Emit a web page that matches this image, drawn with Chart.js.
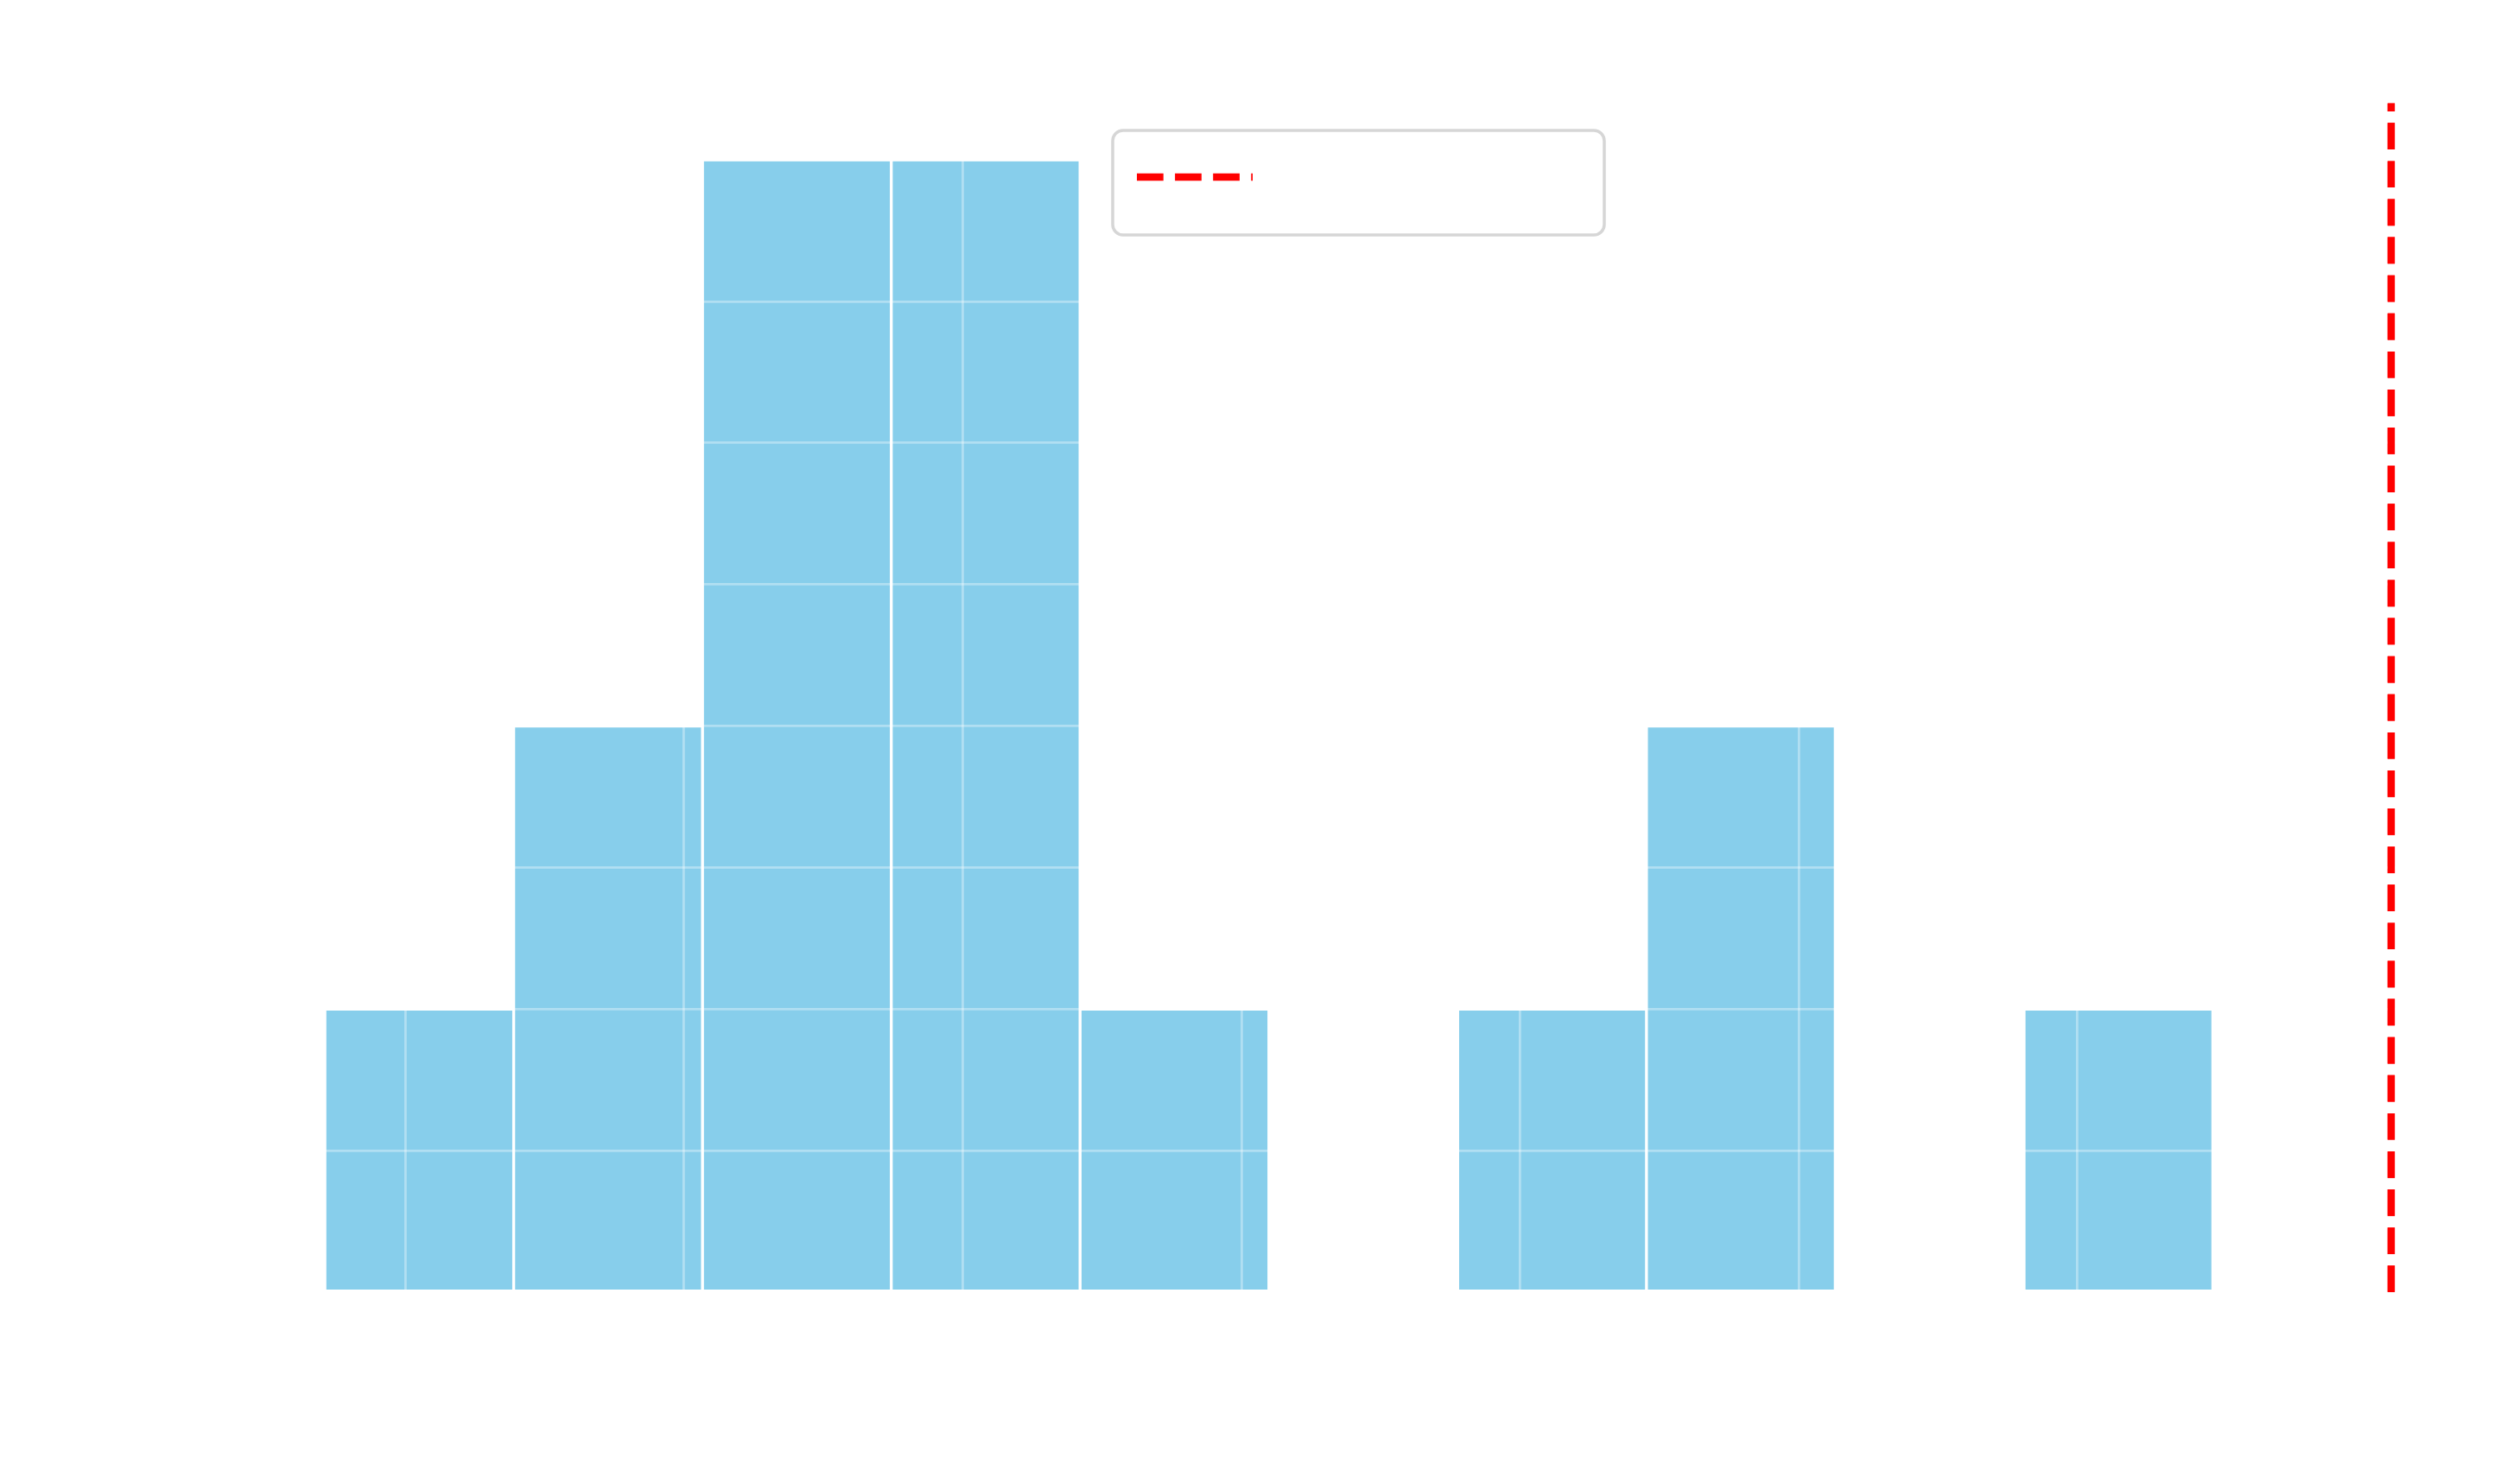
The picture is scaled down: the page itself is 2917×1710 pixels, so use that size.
<!DOCTYPE html>
<html>
<head>
<meta charset="utf-8">
<script src="https://cdn.jsdelivr.net/npm/chart.js@4"></script>
<style>
  html, body { margin: 0; padding: 0; background: #ffffff; }
  #wrap { width: 2917px; height: 1710px; }
</style>
</head>
<body>
<div id="wrap"><canvas id="c" width="2917" height="1710"></canvas></div>
<script>
// ---- data ----
const binCenters = [1.0498, 1.7272, 2.4048, 3.0822, 3.7598, 4.4372, 5.1148, 5.7922, 6.4698, 7.1472];
const binCounts  = [2, 4, 8, 8, 2, 0, 2, 4, 0, 2];
const thresholdX = 8.126;
const thresholdSpan = [0, 8.4];
const xTickStep = 1;
const yTickStep = 1;
const xRange = [0.34, 8.497];
const yRange = [0, 8.4];

const barData = binCenters.map((c, i) => ({ x: c, y: binCounts[i] }));
const lineData = thresholdSpan.map(v => ({ x: thresholdX, y: v }));

// redraw the threshold line above the grid layer, then draw the legend frame
const overlay = {
  id: 'overlay',
  afterDraw(chart) {
    const meta = chart.getDatasetMeta(1);
    if (meta && meta.controller) meta.controller.draw();
    const ctx = chart.ctx;
    ctx.save();
    ctx.beginPath();
    ctx.roundRect(1288, 151, 569, 121, 12);
    ctx.fillStyle = 'rgba(255,255,255,0.8)';
    ctx.fill();
    ctx.lineWidth = 3.5;
    ctx.strokeStyle = 'rgb(214,214,214)';
    ctx.stroke();
    ctx.beginPath();
    ctx.setLineDash([30.7, 13.4]);
    ctx.lineCap = 'butt';
    ctx.lineWidth = 8.3;
    ctx.strokeStyle = '#ff0000';
    ctx.moveTo(1316, 205);
    ctx.lineTo(1450, 205);
    ctx.stroke();
    ctx.restore();
  }
};

new Chart(document.getElementById('c'), {
  type: 'bar',
  data: {
    datasets: [
      {
        type: 'bar',
        data: barData,
        backgroundColor: '#87CEEB',
        borderColor: '#ffffff',
        borderWidth: 2,
        borderSkipped: false,
        barPercentage: 1.0,
        categoryPercentage: 1.0,
        order: 2
      },
      {
        type: 'line',
        data: lineData,
        borderColor: '#ff0000',
        borderWidth: 8.3,
        borderDash: [30.7, 13.4],
        pointRadius: 0,
        fill: false,
        order: 1
      }
    ]
  },
  options: {
    responsive: false,
    animation: false,
    devicePixelRatio: 1,
    layout: { padding: { left: 256.4, right: 29.4, top: 119.5, bottom: 214 } },
    plugins: { legend: { display: false }, tooltip: { enabled: false } },
    scales: {
      x: {
        type: 'linear',
        min: xRange[0],
        max: xRange[1],
        offset: false,
        z: 1,
        border: { display: false },
        grid: { offset: false, z: 1, color: 'rgba(255,255,255,0.35)', lineWidth: 2.8, drawTicks: false },
        ticks: { display: false, stepSize: xTickStep, includeBounds: false },
        afterFit(s) { s.height = 0; }
      },
      y: {
        type: 'linear',
        min: yRange[0],
        max: yRange[1],
        z: 1,
        border: { display: false },
        grid: { z: 1, color: 'rgba(255,255,255,0.35)', lineWidth: 2.8, drawTicks: false },
        ticks: { display: false, stepSize: yTickStep, includeBounds: false },
        afterFit(s) { s.width = 0; }
      }
    }
  },
  plugins: [overlay]
});
</script>
</body>
</html>
